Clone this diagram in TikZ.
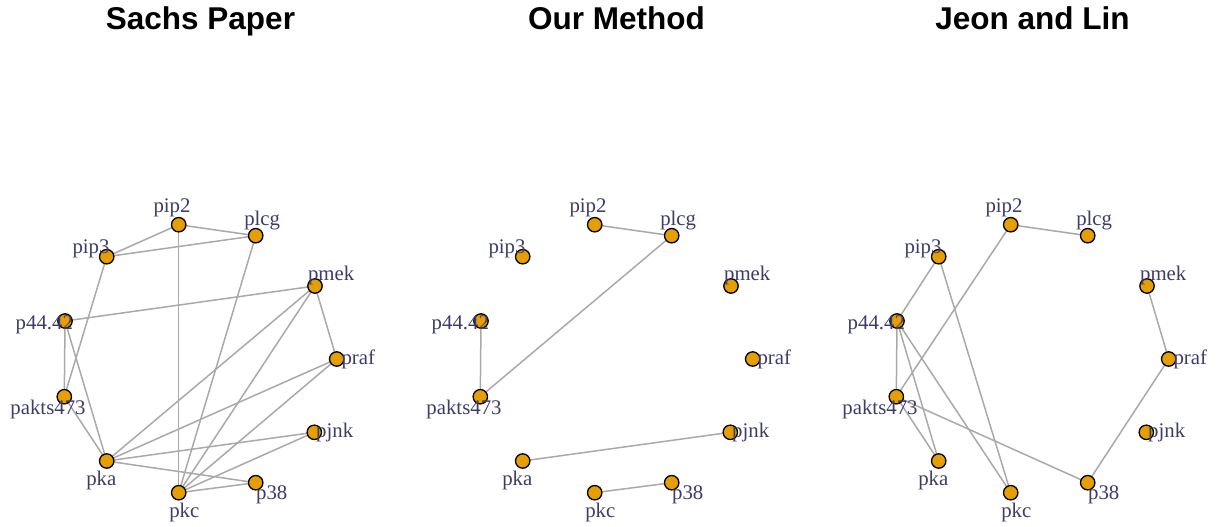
\documentclass[tikz,border=0pt]{standalone}
\usepackage{fontspec}
\setmainfont{Liberation Serif}
\newfontfamily\titlefont{Liberation Sans}
\pgfdeclarelayer{bg}
\pgfsetlayers{bg,main}
\definecolor{vtxfill}{HTML}{E69F00}
\definecolor{edgecol}{HTML}{A9A9A9}
\definecolor{labcol}{HTML}{3C3C6C}
\tikzset{
  vtx/.style={circle, draw=black, fill=vtxfill, line width=1.3pt, minimum size=14.4pt, inner sep=0pt},
  lbl/.style={anchor=base, inner sep=0pt, text=labcol, font=\fontsize{20.8}{24}\selectfont},
  ttl/.style={anchor=base, inner sep=0pt, font=\titlefont\bfseries\fontsize{31.5}{36}\selectfont},
  edge/.style={draw=edgecol, line width=1.5pt},
}
% one panel: vertices in a ring, with their labels; #1 = name prefix
\newcommand\ringpanel[1]{%
  \node[vtx] (#1pip2)  at (178.7,224.7) {};
  \node[vtx] (#1plcg)  at (255.7,235.7) {};
  \node[vtx] (#1pip3)  at (106.7,256.7) {};
  \node[vtx] (#1pmek)  at (315.0,286.0) {};
  \node[vtx] (#1p44)   at (65.0,321.0) {};
  \node[vtx] (#1praf)  at (336.7,359.0) {};
  \node[vtx] (#1pakts) at (64.3,396.7) {};
  \node[vtx] (#1pjnk)  at (314.3,432.3) {};
  \node[vtx] (#1pka)   at (106.7,461.0) {};
  \node[vtx] (#1p38)   at (255.7,482.7) {};
  \node[vtx] (#1pkc)   at (178.7,492.7) {};
  \node[lbl] (#1pip2-l)  at (172.0,212.7) {pip2};
  \node[lbl] (#1plcg-l)  at (262.2,225.3) {plcg};
  \node[lbl] (#1pip3-l)  at (91.0,253.3) {pip3};
  \node[lbl] (#1pmek-l)  at (331.2,280.3) {pmek};
  \node[lbl] (#1p44-l)   at (44.3,329.3) {p44.42};
  \node[lbl] (#1praf-l)  at (358.3,364.5) {praf};
  \node[lbl] (#1pakts-l) at (48.0,414.3) {pakts473};
  \node[lbl] (#1pjnk-l)  at (334.7,437.7) {pjnk};
  \node[lbl] (#1pka-l)   at (101.3,485.3) {pka};
  \node[lbl] (#1p38-l)   at (271.7,499.3) {p38};
  \node[lbl] (#1pkc-l)   at (184.3,517.0) {pkc};
}
\begin{document}
\begin{tikzpicture}[x=1pt,y=-1pt]
\useasboundingbox (0,0) rectangle (1218,527);

% titles
\node[ttl] (t1) at (200.5,29.8) {Sachs Paper};
\node[ttl] (t2) at (616.5,29.8) {Our Method};
\node[ttl] (t3) at (1032.5,29.8) {Jeon and Lin};

% vertices and labels of the three networks
\begin{scope}[xshift=0pt]\ringpanel{A}\end{scope}
\begin{scope}[xshift=416pt]\ringpanel{B}\end{scope}
\begin{scope}[xshift=832pt]\ringpanel{C}\end{scope}

\begin{pgfonlayer}{bg}
% Sachs Paper
\foreach \u/\v in {pip2/pip3, pip2/plcg, pip3/plcg, pip2/pkc, plcg/pkc, pip3/pakts,
  p44/pmek, p44/pakts, p44/pka, pakts/pka, pmek/praf, pmek/pka, pmek/pkc,
  praf/pka, praf/pkc, pjnk/pka, pjnk/pkc, pka/p38, pkc/p38}
  \draw[edge] (A\u.center) -- (A\v.center);
% Our Method
\foreach \u/\v in {pip2/plcg, plcg/pakts, p44/pakts, pka/pjnk, pkc/p38}
  \draw[edge] (B\u.center) -- (B\v.center);
% Jeon and Lin
\foreach \u/\v in {pip2/plcg, pip2/pakts, pip3/p44, pip3/pkc, p44/pakts, p44/pka,
  p44/pkc, pakts/pka, pakts/p38, p38/praf, pmek/praf}
  \draw[edge] (C\u.center) -- (C\v.center);
\end{pgfonlayer}
\end{tikzpicture}
\end{document}
